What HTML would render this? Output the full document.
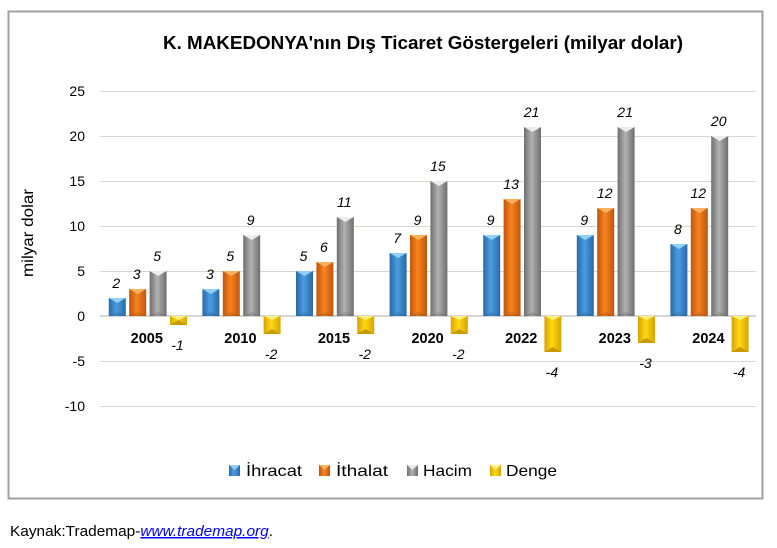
<!DOCTYPE html>
<html><head><meta charset="utf-8"><style>
html,body{margin:0;padding:0;background:#fff;}
body{width:777px;height:543px;overflow:hidden;}
svg text{font-family:"Liberation Sans",sans-serif;}
</style></head><body>
<svg width="777" height="543" viewBox="0 0 777 543" xmlns="http://www.w3.org/2000/svg">
<defs>
<linearGradient id="gb" x1="0" x2="1" y1="0" y2="0"><stop offset="0" stop-color="#2a68a8"/><stop offset="0.45" stop-color="#4a9ee0"/><stop offset="1" stop-color="#2a68a8"/></linearGradient>
<linearGradient id="go" x1="0" x2="1" y1="0" y2="0"><stop offset="0" stop-color="#c0550c"/><stop offset="0.45" stop-color="#f7841f"/><stop offset="1" stop-color="#c0550c"/></linearGradient>
<linearGradient id="gg" x1="0" x2="1" y1="0" y2="0"><stop offset="0" stop-color="#6e6e6e"/><stop offset="0.45" stop-color="#b2b2b2"/><stop offset="1" stop-color="#6e6e6e"/></linearGradient>
<linearGradient id="gy" x1="0" x2="1" y1="0" y2="0"><stop offset="0" stop-color="#d6a400"/><stop offset="0.45" stop-color="#ffd814"/><stop offset="1" stop-color="#d6a400"/></linearGradient>
</defs>
<rect x="8.5" y="11.5" width="754" height="487" fill="#fff" stroke="#a0a0a0" stroke-width="2"/>
<text x="423" y="49" text-anchor="middle" font-size="18" font-weight="bold" fill="#000" textLength="520" lengthAdjust="spacingAndGlyphs">K. MAKEDONYA'nın Dış Ticaret Göstergeleri (milyar dolar)</text>
<g stroke="#d9d6d0" stroke-width="1">
<line x1="100" x2="756" y1="91.5" y2="91.5"/>
<line x1="100" x2="756" y1="136.5" y2="136.5"/>
<line x1="100" x2="756" y1="181.5" y2="181.5"/>
<line x1="100" x2="756" y1="226.5" y2="226.5"/>
<line x1="100" x2="756" y1="271.5" y2="271.5"/>
<line x1="100" x2="756" y1="361.5" y2="361.5"/>
<line x1="100" x2="756" y1="406.5" y2="406.5"/>
</g>
<line x1="100" x2="756" y1="316" y2="316" stroke="#c8c8c8" stroke-width="1.5"/>
<g font-size="14" fill="#000" text-anchor="end">
<text x="85" y="96">25</text>
<text x="85" y="141">20</text>
<text x="85" y="186">15</text>
<text x="85" y="231">10</text>
<text x="85" y="276">5</text>
<text x="85" y="321">0</text>
<text x="85" y="366">-5</text>
<text x="85" y="411">-10</text>
</g>
<text transform="translate(33,233) rotate(-90)" text-anchor="middle" font-size="16" fill="#000" textLength="88" lengthAdjust="spacingAndGlyphs">milyar dolar</text>
<g id="bars"></g>
<g font-size="14.5" font-weight="bold" fill="#000" text-anchor="middle" id="cats"></g>
<g font-size="14" font-style="italic" fill="#000" text-anchor="middle" id="vals"></g>
<!-- legend -->
<rect x="229" y="465" width="11" height="11" fill="url(#gb)"/><polygon points="229,465 240,465 234.5,470" fill="#8fd0f5"/>
<text x="246" y="476" font-size="16" fill="#000" textLength="56" lengthAdjust="spacingAndGlyphs">İhracat</text>
<rect x="319" y="465" width="11" height="11" fill="url(#go)"/><polygon points="319,465 330,465 324.5,470" fill="#fbb060"/>
<text x="336" y="476" font-size="16" fill="#000" textLength="52" lengthAdjust="spacingAndGlyphs">İthalat</text>
<rect x="407" y="465" width="11" height="11" fill="url(#gg)"/><polygon points="407,465 418,465 412.5,470" fill="#e8e8e8"/>
<text x="423" y="476" font-size="16" fill="#000" textLength="49" lengthAdjust="spacingAndGlyphs">Hacim</text>
<rect x="490" y="465" width="11" height="11" fill="url(#gy)"/><polygon points="490,465 501,465 495.5,470" fill="#fff080"/>
<text x="506" y="476" font-size="16" fill="#000" textLength="51" lengthAdjust="spacingAndGlyphs">Denge</text>
<!-- footer -->
<text x="10" y="536" font-size="15" fill="#000" textLength="263" lengthAdjust="spacingAndGlyphs">Kaynak:Trademap-<tspan fill="#0000ee" font-style="italic" text-decoration="underline">www.trademap.org</tspan>.</text>
<script>
var data=[["2005",2,3,5,-1],["2010",3,5,9,-2],["2015",5,6,11,-2],["2020",7,9,15,-2],["2022",9,13,21,-4],["2023",9,12,21,-3],["2024",8,12,20,-4]];
var fills=["url(#gb)","url(#go)","url(#gg)","url(#gy)"];
var tops=["#8fd0f5","#fbb060","#ececec","#fff080"];
var ns="http://www.w3.org/2000/svg";
var bars=document.getElementById("bars"),cats=document.getElementById("cats"),vals=document.getElementById("vals");
function el(t,a,p){var e=document.createElementNS(ns,t);for(var k in a)e.setAttribute(k,a[k]);p.appendChild(e);return e;}
for(var i=0;i<7;i++){
 var c=101+93.6*(i+0.5);
 for(var j=0;j<4;j++){
  var v=data[i][j+1];var x=c-39+j*20.4;var w=17;
  var h=Math.abs(v)*9;
  var y=v>=0?316-h:316;
  el("rect",{x:x,y:y,width:w,height:h,fill:fills[j]},bars);
  if(v>=0){
   el("polygon",{points:x+","+y+" "+(x+w)+","+y+" "+(x+w/2)+","+(y+5)},bars).setAttribute("fill",tops[j]);
   el("polygon",{points:x+","+316+" "+(x+w)+","+316+" "+(x+w/2)+","+(316-4)},bars).setAttribute("fill","rgba(0,0,0,0.12)");
   var t=el("text",{x:x+w/2-1,y:y-10},vals);t.textContent=v;
  } else {
   el("polygon",{points:x+","+(y+h)+" "+(x+w)+","+(y+h)+" "+(x+w/2)+","+(y+h-5)},bars).setAttribute("fill","#c89a00");
   el("polygon",{points:x+","+y+" "+(x+w)+","+y+" "+(x+w/2)+","+(y+4)},bars).setAttribute("fill","#fff080");
   var t=el("text",{x:x+w/2-1,y:y+h+25},vals);t.textContent=v;
  }
 }
 var ct=el("text",{x:c-1,y:343},cats);ct.textContent=data[i][0];
}
</script>
</svg>
</body></html>
